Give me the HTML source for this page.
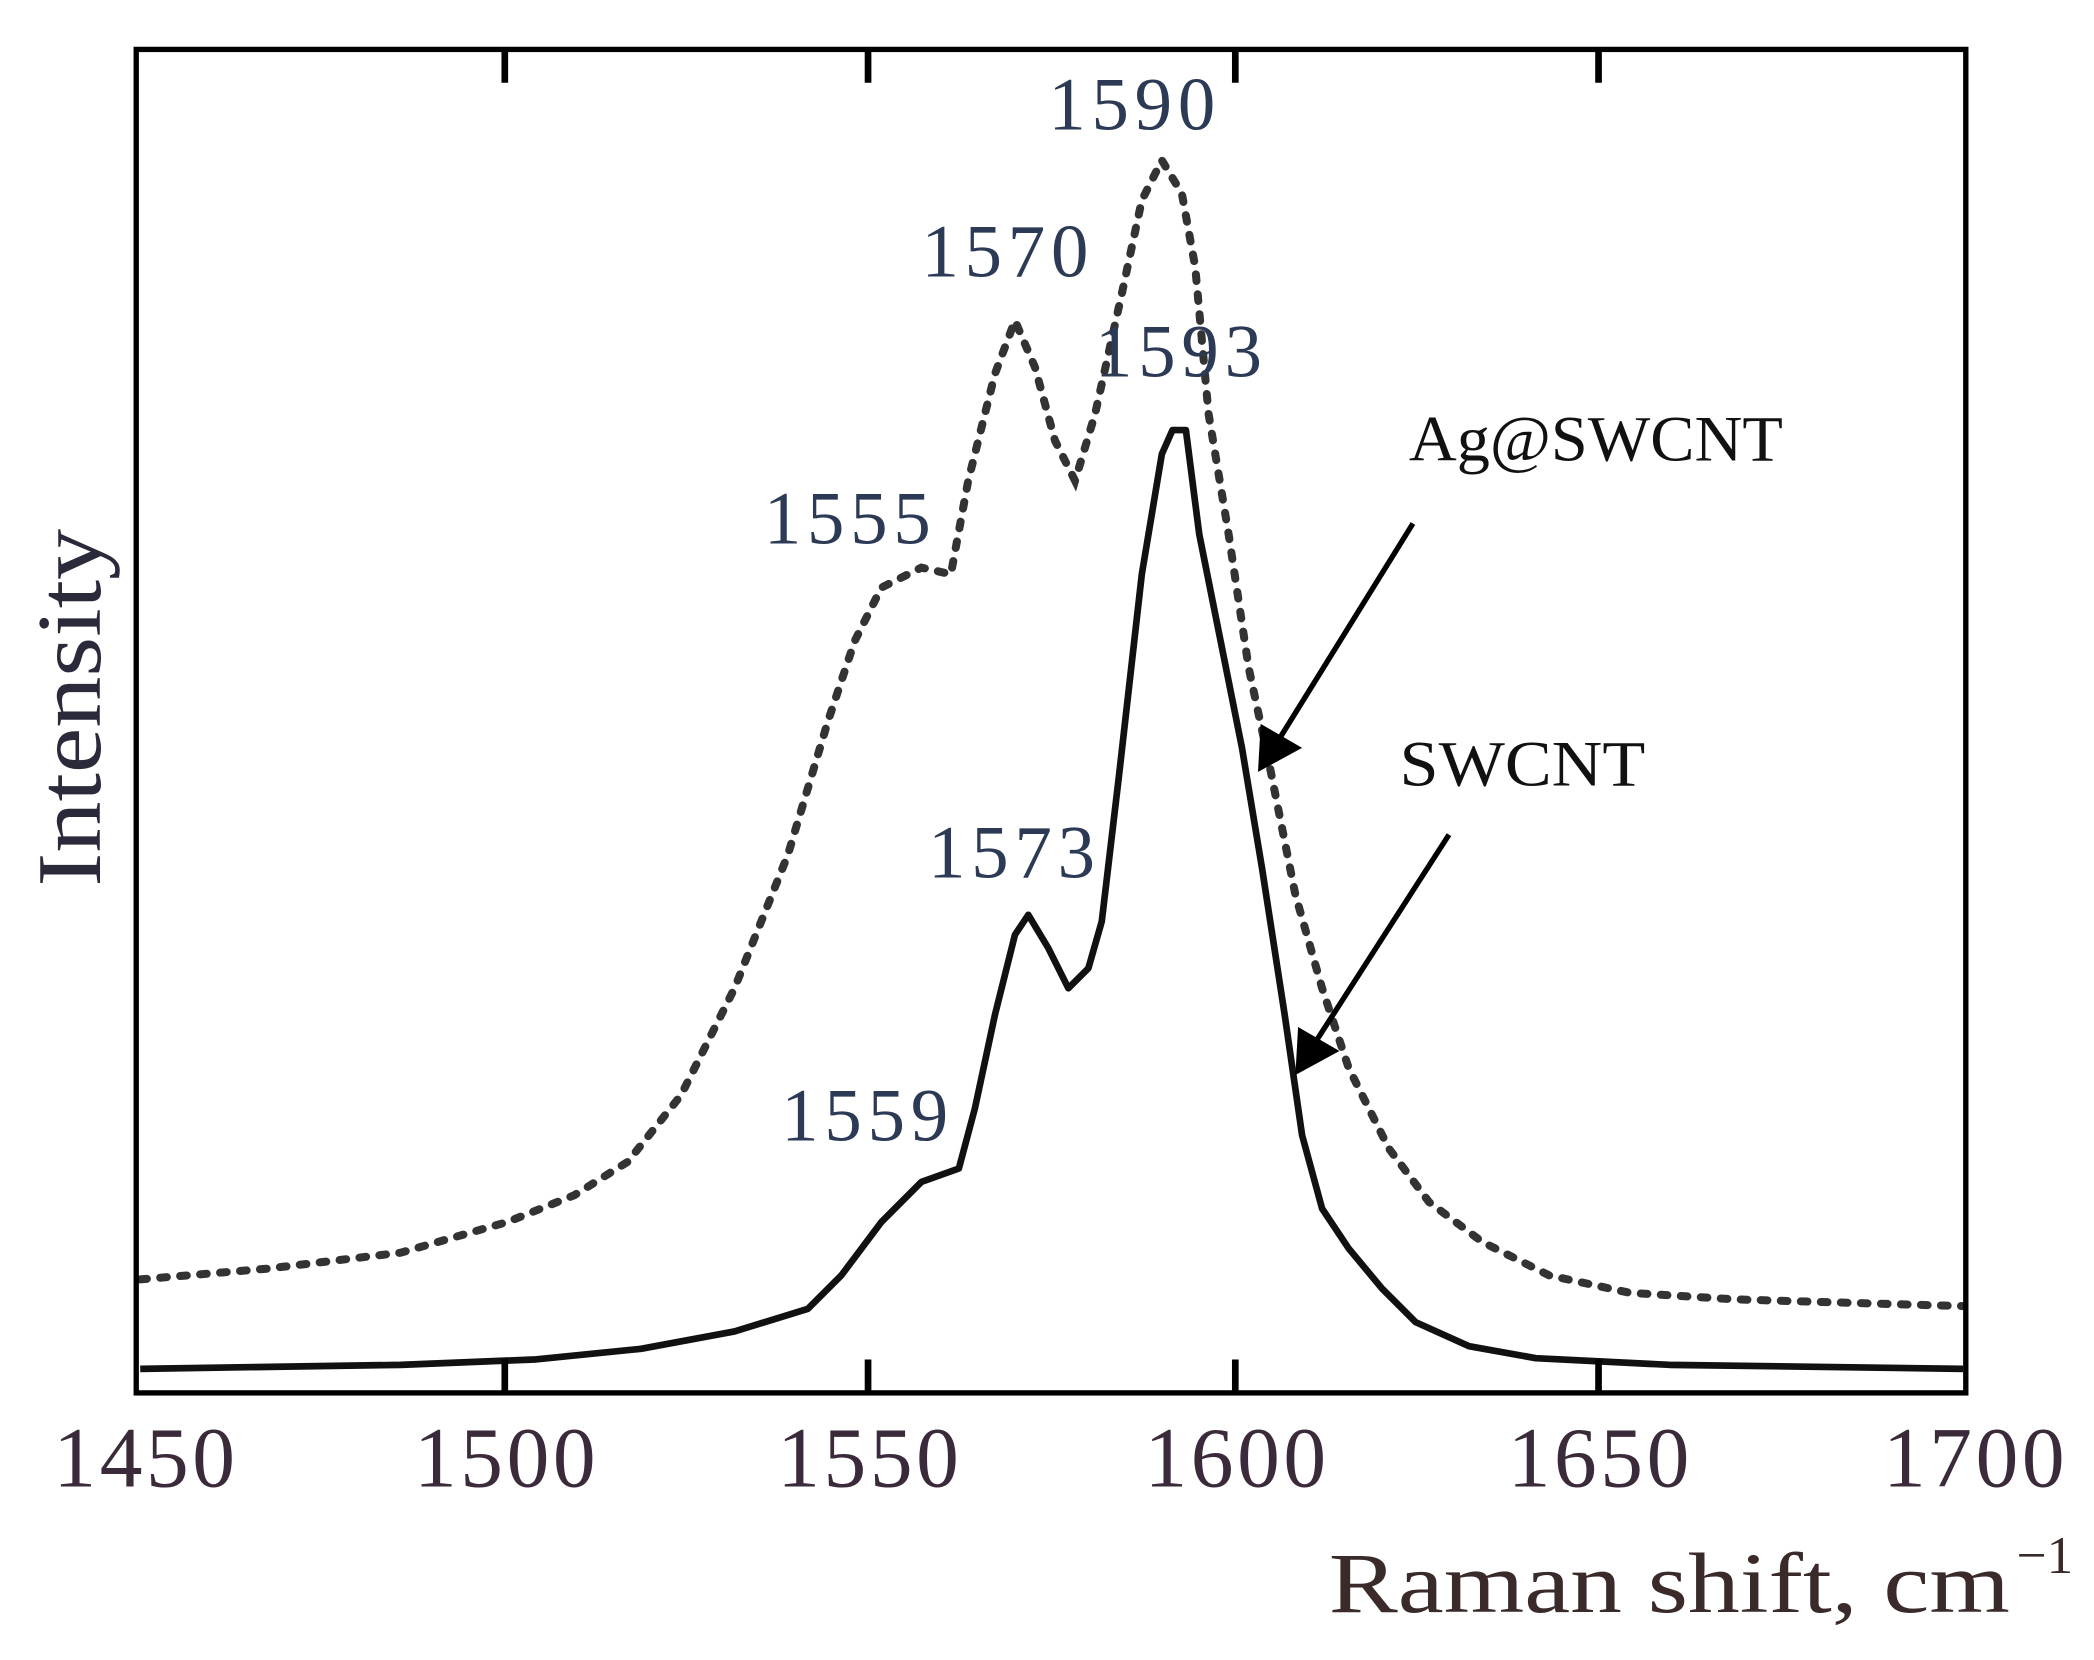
<!DOCTYPE html>
<html><head><style>html,body{margin:0;padding:0;background:#fff;}svg{display:block;}</style></head>
<body>
<svg width="2094" height="1660" viewBox="0 0 1568 1243" xmlns="http://www.w3.org/2000/svg">
<rect width="1568" height="1243" fill="#fff"/>
<g font-family="Liberation Serif, serif" fill="#222">
<polyline fill="none" stroke="#333" stroke-width="6" stroke-dasharray="5,10" stroke-linecap="round" points="105,958 200,950 300,938 380,915 430,895 470,870 510,820 550,740 590,640 620,540 640,480 660,440 690,425 712,430 725,360 745,280 760,240 775,275 790,330 805,360 820,310 840,220 855,150 870,120 885,145 895,200 905,310 920,400 935,500 950,570 970,670 990,740 1010,800 1040,860 1070,900 1110,930 1160,955 1220,968 1300,973 1400,976 1470,978"/>
<polyline fill="none" stroke="#111" stroke-width="5" stroke-linejoin="round" points="105,1025 300,1022 400,1018 480,1010 550,997 605,980 630,955 660,915 690,885 718,875 730,830 745,760 760,700 770,685 785,710 800,740 815,725 825,690 838,580 855,430 870,340 878,322 888,322 898,400 912,470 930,560 945,650 962,760 975,850 990,905 1010,935 1035,965 1060,990 1100,1008 1150,1017 1250,1022 1470,1025"/>
<rect x="102" y="37" width="1370" height="1006" fill="none" stroke="#000" stroke-width="4"/>
<g stroke="#000" stroke-width="5">
<line x1="378" y1="37" x2="378" y2="62"/><line x1="650" y1="37" x2="650" y2="62"/><line x1="925" y1="37" x2="925" y2="62"/><line x1="1197" y1="37" x2="1197" y2="62"/>
<line x1="378" y1="1043" x2="378" y2="1018"/><line x1="650" y1="1043" x2="650" y2="1018"/><line x1="925" y1="1043" x2="925" y2="1018"/><line x1="1197" y1="1043" x2="1197" y2="1018"/>
</g>
<g font-size="64" fill="#3a2a3a" lengthAdjust="spacingAndGlyphs">
<text x="40" y="1113" textLength="136">1450</text><text x="310" y="1113" textLength="136">1500</text><text x="582" y="1113" textLength="136">1550</text><text x="857" y="1113" textLength="136">1600</text><text x="1129" y="1113" textLength="136">1650</text><text x="1410" y="1113" textLength="136">1700</text>
</g>
<text x="995" y="1207" font-size="64" fill="#3a2a2a" textLength="510" lengthAdjust="spacingAndGlyphs">Raman shift, cm</text>
<text x="1510" y="1178" font-size="40" fill="#3a2a2a">−1</text>
<text transform="translate(75,530) rotate(-90)" font-size="68" text-anchor="middle" fill="#2a2a3a" textLength="268" lengthAdjust="spacingAndGlyphs">Intensity</text>
<g font-size="56" fill="#2c3a55" lengthAdjust="spacingAndGlyphs">
<text x="785" y="97" textLength="125">1590</text><text x="690" y="207" textLength="125">1570</text><text x="820" y="282" textLength="125">1593</text>
<text x="572" y="407" textLength="125">1555</text><text x="695" y="657" textLength="125">1573</text><text x="585" y="854" textLength="125">1559</text>
</g>
<text x="1055" y="345" font-size="48" fill="#111" textLength="280" lengthAdjust="spacingAndGlyphs">Ag@SWCNT</text>
<text x="1048" y="588" font-size="48" fill="#111" textLength="184" lengthAdjust="spacingAndGlyphs">SWCNT</text>
<g stroke="#000" stroke-width="4">
<line x1="1058" y1="392" x2="955" y2="558"/>
<line x1="1085" y1="625" x2="982" y2="785"/>
</g>
<polygon points="942,578 944,542 975,560" fill="#000"/>
<polygon points="970,805 972,769 1003,787" fill="#000"/>
</g>
</svg>
</body></html>
